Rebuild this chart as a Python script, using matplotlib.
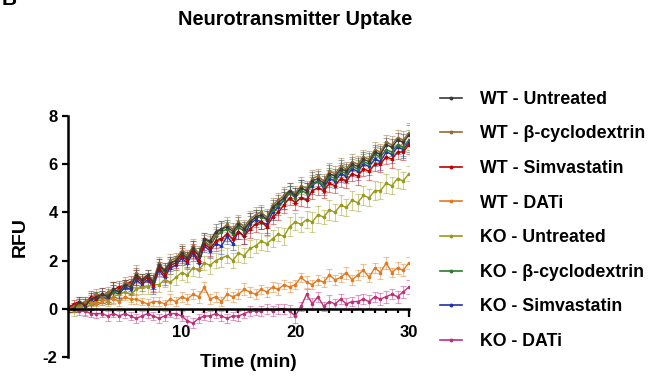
import numpy as np
import matplotlib
matplotlib.use("Agg")
import matplotlib.pyplot as plt
from matplotlib.lines import Line2D

plt.rcParams['font.family'] = ['Liberation Sans', 'DejaVu Sans']
plt.rcParams['font.weight'] = 'bold'
plt.rcParams['axes.unicode_minus'] = False

#%% data
time = np.arange(0, 30.5, 0.5)

labels = ['WT - Untreated', 'WT - β-cyclodextrin', 'WT - Simvastatin', 'WT - DATi',
          'KO - Untreated', 'KO - β-cyclodextrin', 'KO - Simvastatin', 'KO - DATi']
colors = ['#3a3a3a', '#9a6a2c', '#c00000', '#e07a1f',
          '#9a9a1c', '#2e7a30', '#2232a8', '#c0307a']

wt_untreated = [0.0,
    0.0, 0.3, 0.1, 0.4, 0.5, 0.6, 0.5, 0.8, 0.7, 1.0,
    0.9, 1.4, 1.2, 1.4, 1.1, 1.8, 1.6, 1.9, 2.0, 2.3,
    2.1, 2.5, 2.2, 2.9, 2.8, 3.2, 3.3, 3.4, 3.2, 3.5,
    3.3, 3.6, 3.8, 3.9, 3.7, 4.2, 4.4, 4.6, 4.9, 4.7,
    5.0, 4.9, 5.3, 5.4, 5.2, 5.6, 5.5, 5.8, 5.7, 6.0,
    5.9, 6.2, 6.1, 6.5, 6.4, 6.8, 6.7, 7.0, 6.9, 7.2]
wt_bcd = [0.0,
    0.1, 0.2, 0.3, 0.4, 0.6, 0.5, 0.7, 0.8, 0.7, 1.1,
    1.0, 1.5, 1.2, 1.4, 1.2, 1.9, 1.6, 2.0, 2.1, 2.4,
    2.2, 2.6, 2.3, 2.9, 2.7, 3.1, 3.3, 3.5, 3.3, 3.6,
    3.4, 3.7, 3.9, 4.0, 3.8, 4.3, 4.5, 4.7, 4.9, 4.8,
    5.1, 5.0, 5.4, 5.5, 5.3, 5.7, 5.6, 5.9, 5.8, 6.1,
    6.0, 6.3, 6.2, 6.6, 6.5, 6.9, 6.8, 7.1, 7.0, 7.3]
wt_simva = [0.0,
    0.2, 0.3, 0.2, 0.5, 0.4, 0.6, 0.5, 0.8, 0.9, 1.0,
    1.1, 1.3, 1.1, 1.3, 1.0, 1.7, 1.4, 1.8, 1.9, 2.2,
    2.0, 2.4, 2.0, 2.7, 2.5, 2.8, 2.9, 3.1, 2.9, 3.2,
    3.0, 3.3, 3.5, 3.6, 3.4, 3.8, 4.0, 4.3, 4.6, 4.4,
    4.6, 4.5, 4.9, 5.0, 4.9, 5.2, 5.1, 5.4, 5.3, 5.6,
    5.5, 5.8, 5.7, 6.0, 6.0, 6.3, 6.2, 6.5, 6.5, 6.8]
wt_dati = [0.0,
    0.0, 0.2, 0.1, 0.3, 0.2, 0.3, 0.4, 0.4, 0.3, 0.5,
    0.4, 0.4, 0.3, 0.2, 0.3, 0.3, 0.2, 0.4, 0.3, 0.5,
    0.4, 0.6, 0.5, 0.9, 0.4, 0.5, 0.3, 0.6, 0.5, 0.6,
    0.8, 0.7, 0.6, 0.8, 0.7, 0.9, 0.8, 1.0, 0.9, 1.0,
    1.3, 1.1, 1.0, 1.2, 1.1, 1.4, 1.2, 1.3, 1.5, 1.2,
    1.4, 1.6, 1.3, 1.7, 1.5, 1.9, 1.5, 1.7, 1.6, 1.9]
ko_untreated = [0.0,
    -0.1, 0.1, 0.0, 0.2, 0.3, 0.4, 0.3, 0.5, 0.6, 0.7,
    0.6, 0.8, 0.9, 0.9, 1.0, 1.0, 1.2, 1.1, 1.3, 1.5,
    1.4, 1.7, 1.6, 1.9, 1.8, 2.0, 2.1, 2.2, 2.0, 2.3,
    2.2, 2.5, 2.6, 2.8, 2.7, 2.9, 3.1, 3.0, 3.4, 3.6,
    3.5, 3.7, 3.6, 3.9, 3.8, 4.1, 4.0, 4.3, 4.2, 4.5,
    4.4, 4.7, 4.6, 4.9, 4.9, 5.2, 5.1, 5.4, 5.3, 5.6]
ko_bcd = [0.0,
    0.0, 0.2, 0.2, 0.3, 0.5, 0.5, 0.6, 0.7, 0.8, 1.0,
    1.0, 1.3, 1.2, 1.3, 1.1, 1.8, 1.5, 1.9, 2.0, 2.3,
    2.1, 2.5, 2.2, 2.8, 2.6, 3.0, 3.2, 3.3, 3.1, 3.4,
    3.2, 3.6, 3.8, 3.8, 3.7, 4.1, 4.3, 4.5, 4.8, 4.6,
    4.9, 4.8, 5.2, 5.3, 5.1, 5.5, 5.4, 5.7, 5.6, 5.9,
    5.8, 6.1, 6.0, 6.4, 6.3, 6.6, 6.5, 6.8, 6.7, 7.0]
ko_simva = [0.0,
    0.1, 0.1, 0.3, 0.2, 0.4, 0.5, 0.4, 0.7, 0.6, 0.9,
    0.8, 1.2, 1.0, 1.2, 0.9, 1.6, 1.3, 1.7, 1.8, 2.1,
    1.9, 2.3, 1.9, 2.6, 2.4, 2.7, 2.6, 3.0, 2.7, 3.2,
    3.0, 3.5, 3.7, 3.6, 3.5, 4.0, 4.2, 4.5, 4.8, 4.7,
    5.0, 4.9, 5.1, 5.3, 5.0, 5.4, 5.3, 5.6, 5.5, 5.8,
    5.7, 6.0, 5.9, 6.2, 6.1, 6.5, 6.4, 6.7, 6.6, 6.9]
ko_dati = [0.0,
    0.0, -0.1, -0.1, -0.2, -0.2, -0.2, -0.3, -0.2, -0.3, -0.2,
    -0.3, -0.4, -0.3, -0.2, -0.3, -0.4, -0.3, -0.2, -0.2, -0.3,
    -0.5, -0.6, -0.4, -0.3, -0.3, -0.2, -0.3, -0.4, -0.3, -0.3,
    -0.2, -0.1, -0.1, -0.1, 0.0, -0.1, 0.0, 0.0, -0.1, -0.3,
    0.1, 0.6, 0.2, 0.5, 0.1, 0.3, 0.2, 0.4, 0.2, 0.3,
    0.3, 0.4, 0.3, 0.5, 0.4, 0.5, 0.6, 0.5, 0.7, 0.9]

# SEM
err_main = [0.15,
    0.15, 0.2, 0.2, 0.25, 0.2, 0.25, 0.2, 0.3, 0.25, 0.2,
    0.25, 0.3, 0.25, 0.2, 0.3, 0.25, 0.3, 0.25, 0.2, 0.3,
    0.25, 0.3, 0.3, 0.25, 0.3, 0.3, 0.35, 0.3, 0.25, 0.3,
    0.3, 0.35, 0.3, 0.3, 0.35, 0.3, 0.3, 0.35, 0.3, 0.3,
    0.35, 0.3, 0.35, 0.3, 0.3, 0.35, 0.3, 0.35, 0.3, 0.3,
    0.35, 0.3, 0.35, 0.3, 0.35, 0.3, 0.35, 0.3, 0.35, 0.4]
err_ko_untreated = [0.15,
    0.2, 0.2, 0.25, 0.2, 0.2, 0.25, 0.2, 0.25, 0.2, 0.25,
    0.3, 0.25, 0.3, 0.3, 0.25, 0.3, 0.3, 0.35, 0.3, 0.3,
    0.3, 0.35, 0.3, 0.3, 0.35, 0.3, 0.35, 0.3, 0.3, 0.35,
    0.3, 0.35, 0.3, 0.35, 0.3, 0.35, 0.3, 0.35, 0.4, 0.35,
    0.3, 0.35, 0.4, 0.35, 0.3, 0.4, 0.35, 0.4, 0.35, 0.4,
    0.35, 0.4, 0.35, 0.4, 0.35, 0.4, 0.35, 0.4, 0.35, 0.3]
err_wt_dati = [0.15,
    0.15, 0.2, 0.15, 0.2, 0.2, 0.15, 0.2, 0.2, 0.2, 0.15,
    0.2, 0.2, 0.15, 0.2, 0.2, 0.2, 0.15, 0.2, 0.2, 0.2,
    0.2, 0.2, 0.25, 0.2, 0.2, 0.2, 0.2, 0.25, 0.2, 0.2,
    0.25, 0.2, 0.2, 0.2, 0.2, 0.2, 0.25, 0.2, 0.2, 0.2,
    0.2, 0.25, 0.2, 0.2, 0.2, 0.25, 0.2, 0.2, 0.25, 0.2,
    0.2, 0.25, 0.2, 0.2, 0.25, 0.25, 0.2, 0.25, 0.25, 0.25]
err_ko_dati = [0.15,
    0.15, 0.15, 0.2, 0.15, 0.2, 0.15, 0.2, 0.15, 0.2, 0.2,
    0.15, 0.2, 0.2, 0.2, 0.15, 0.2, 0.2, 0.15, 0.2, 0.2,
    0.2, 0.2, 0.2, 0.15, 0.2, 0.2, 0.2, 0.2, 0.15, 0.2,
    0.2, 0.2, 0.15, 0.2, 0.2, 0.2, 0.2, 0.2, 0.25, 0.3,
    0.2, 0.2, 0.25, 0.2, 0.2, 0.25, 0.2, 0.2, 0.25, 0.2,
    0.25, 0.2, 0.25, 0.2, 0.25, 0.25, 0.2, 0.25, 0.25, 0.3]

series = [wt_untreated, wt_bcd, wt_simva, wt_dati,
          ko_untreated, ko_bcd, ko_simva, ko_dati]
errors = [err_main, err_main, err_main, err_wt_dati,
          err_ko_untreated, err_main, err_main, err_ko_dati]

#%% plot
fig = plt.figure(figsize=(6.48, 3.78), dpi=100)
ax = fig.add_axes([0.105, 0.0556, 0.526, 0.638])

# draw in reverse so WT - Untreated ends up on top
for i in reversed(range(len(series))):
    ax.errorbar(time, series[i], yerr=errors[i], color=colors[i],
                ecolor=matplotlib.colors.to_rgba(colors[i], 0.45),
                lw=1.0, marker='o', ms=1.6, capsize=2.2, elinewidth=0.8,
                capthick=0.8)

ax.set_xlim(0, 30)
ax.set_ylim(-2, 8)
ax.spines['top'].set_visible(False)
ax.spines['right'].set_visible(False)
ax.spines['bottom'].set_position(('data', 0))
ax.spines['left'].set_linewidth(1.8)
ax.spines['bottom'].set_linewidth(1.8)

ax.set_xticks([10, 20, 30])
ax.set_xticks(np.arange(1, 31, 1), minor=True)
ax.set_yticks([-2, 0, 2, 4, 6, 8])
ax.tick_params(axis='x', which='major', length=6, width=1.6, pad=6, labelsize=12)
ax.tick_params(axis='x', which='minor', length=3, width=1.6)
ax.tick_params(axis='y', which='major', length=4.5, width=1.6, pad=3, labelsize=12)
for lb in ax.get_xticklabels() + ax.get_yticklabels():
    lb.set_fontweight('bold')

fig.text(20/648, 1-237/378, 'RFU', rotation=90, ha='center', va='center',
         fontsize=14, fontweight='bold')
fig.text(248/648, 1-367/378, 'Time (min)', ha='center', va='baseline',
         fontsize=13.8, fontweight='bold')
fig.text(295/648, 1-25/378, 'Neurotransmitter Uptake', ha='center', va='baseline',
         fontsize=14.4, fontweight='bold')
fig.text(0.002, 1-9/378, 'B', ha='left', va='bottom', fontsize=15, fontweight='bold')

handles = [Line2D([], [], color=c, lw=1.2, marker='o', ms=1.8) for c in colors]
fig.legend(handles, labels, loc='center left', bbox_to_anchor=(0.668, 0.417),
           frameon=False, handlelength=1.25, handletextpad=1.0, labelspacing=0.99,
           borderpad=0.4, borderaxespad=0, prop={'weight': 'bold', 'size': 12.8})

fig.savefig('out.png', dpi=100)
